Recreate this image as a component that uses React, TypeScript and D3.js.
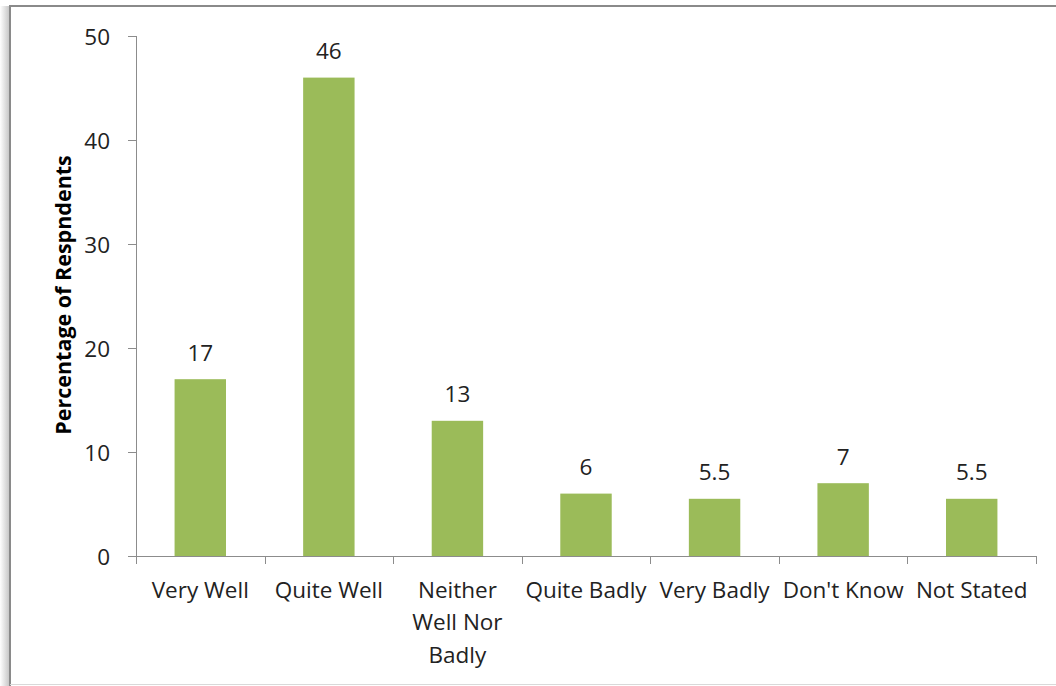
import React from "react";
import * as d3 from "d3";

const categories = ["Very Well", "Quite Well", "Neither Well Nor Badly", "Quite Badly", "Very Badly", "Don't Know", "Not Stated"];
const categoryLines = [["Very Well"], ["Quite Well"], ["Neither", "Well Nor", "Badly"], ["Quite Badly"], ["Very Badly"], ["Don't Know"], ["Not Stated"]];
const values = [17, 46, 13, 6, 5.5, 7, 5.5];
const valueLabels = ["17", "46", "13", "6", "5.5", "7", "5.5"];
const yTicks = [0, 10, 20, 30, 40, 50];
const yTitle = "Percentage of Respndents";

const W = 1056;
const H = 686;
const FONT = "'Open Sans', Lato, sans-serif";
const FS = 22.5;

export default function App() {
  const left = 136, right = 1036, top = 36, bottom = 556;
  const x = d3.scaleBand<string>().domain(categories).range([left, right]).paddingInner(0.6).paddingOuter(0.3);
  const band = d3.scaleBand<string>().domain(categories).range([left, right]).padding(0);
  const y = d3.scaleLinear().domain([0, 50]).range([bottom, top]);
  const axisColor = "#8c8c8c";
  const textColor = "#222";
  return (
    <svg width={W} height={H} style={{ position: "absolute", left: 0, top: 0, background: "#fff" }}>
      <defs>
        <linearGradient id="shadow" x1="0" x2="1" y1="0" y2="0">
          <stop offset="0" stopColor="#ffffff" />
          <stop offset="1" stopColor="#c8c8c8" />
        </linearGradient>
      </defs>
      <rect x={0} y={6} width={9} height={H - 6} fill="url(#shadow)" />
      <line x1={10} x2={W} y1={6} y2={6} stroke="#8a8a8a" strokeWidth={2} />
      <line x1={10} x2={10} y1={5} y2={H} stroke="#8a8a8a" strokeWidth={2} />
      <line x1={10} x2={W} y1={684.5} y2={684.5} stroke="#d9d9d9" strokeWidth={1} />

      {/* y axis */}
      <line x1={left + 0.5} x2={left + 0.5} y1={top} y2={bottom} stroke={axisColor} strokeWidth={1} />
      {yTicks.map((t) => (
        <g key={t}>
          <line x1={left - 8} x2={left} y1={Math.round(y(t)) + 0.5} y2={Math.round(y(t)) + 0.5} stroke={axisColor} />
          <text x={110} y={y(t)} textAnchor="end" dominantBaseline="central" fontFamily={FONT} fontSize={FS} fill={textColor}>
            {t}
          </text>
        </g>
      ))}
      <text
        transform={`translate(62,${(top + bottom) / 2 - 1}) rotate(-90)`}
        textAnchor="middle"
        dominantBaseline="central"
        fontFamily={FONT}
        fontSize={21.5}
        fontWeight="bold"
        fill="#000"
      >
        {yTitle}
      </text>

      {/* x axis */}
      <line x1={left} x2={right} y1={bottom + 0.5} y2={bottom + 0.5} stroke={axisColor} />
      {[...categories.map((c) => band(c)!), right].map((px, i) => (
        <line key={i} x1={Math.round(px) + 0.5} x2={Math.round(px) + 0.5} y1={bottom} y2={bottom + 8} stroke={axisColor} />
      ))}
      {categories.map((c, i) => (
        <text key={c} x={band(c)! + band.bandwidth() / 2} textAnchor="middle" fontFamily={FONT} fontSize={FS} fill={textColor}>
          {categoryLines[i].map((ln, j) => (
            <tspan key={j} x={band(c)! + band.bandwidth() / 2} y={589 + j * 32.5} dominantBaseline="central">
              {ln}
            </tspan>
          ))}
        </text>
      ))}

      {/* bars */}
      {categories.map((c, i) => (
        <g key={c}>
          <rect x={x(c)} y={y(values[i])} width={x.bandwidth()} height={bottom - y(values[i])} fill="#9bbb59" />
          <text
            x={x(c)! + x.bandwidth() / 2}
            y={y(values[i]) - 27}
            textAnchor="middle"
            dominantBaseline="central"
            fontFamily={FONT}
            fontSize={FS}
            fill={textColor}
          >
            {valueLabels[i]}
          </text>
        </g>
      ))}
    </svg>
  );
}
